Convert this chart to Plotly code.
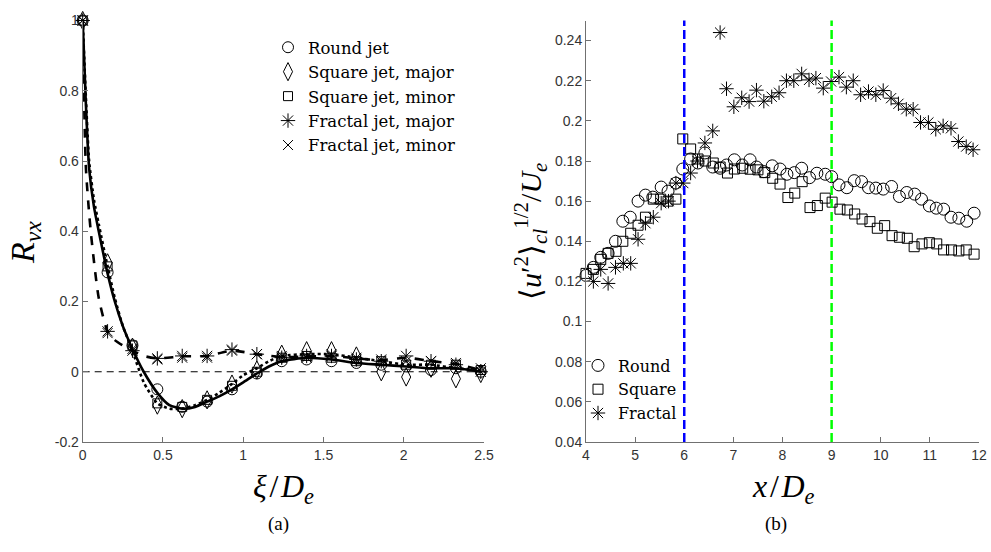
import plotly.graph_objects as go

# ---------------- (a) correlation data ----------------
xi_markers = [0, 0.155, 0.31, 0.465, 0.62, 0.775, 0.93, 1.085, 1.24, 1.395, 1.55, 1.705, 1.86, 2.015, 2.17, 2.325, 2.48]
round_mk = [1, 0.283, 0.075, -0.05, -0.10, -0.085, -0.05, -0.005, 0.03, 0.035, 0.03, 0.025, 0.02, 0.015, 0.005, 0.01, 0.0]
sqmaj_mk = [1, 0.31, 0.07, -0.095, -0.105, -0.08, -0.035, 0.005, 0.05, 0.06, 0.06, 0.045, 0.0, -0.015, 0.01, -0.02, -0.005]
sqmin_mk = [1, 0.30, 0.075, -0.09, -0.10, -0.08, -0.04, 0.0, 0.04, 0.045, 0.04, 0.03, 0.03, 0.02, 0.02, 0.02, 0.005]
frmaj_mk = [1, 0.115, 0.06, 0.038, 0.045, 0.045, 0.063, 0.05, 0.04, 0.045, 0.045, 0.035, 0.03, 0.045, 0.03, 0.02, 0.0]
frmin_mk = [1, 0.11, 0.065, 0.035, 0.04, 0.04, 0.06, 0.05, 0.045, 0.04, 0.05, 0.04, 0.035, 0.03, 0.03, 0.025, 0.01]

round_line_x = [0, 0.02, 0.04, 0.07, 0.1, 0.155, 0.2, 0.25, 0.31, 0.38, 0.465, 0.54, 0.62, 0.7, 0.775, 0.85, 0.93, 1.0, 1.085, 1.16, 1.24, 1.395, 1.55, 1.705, 1.86, 2.015, 2.17, 2.325, 2.48]
round_line_y = [1, 0.76, 0.58, 0.47, 0.4, 0.28, 0.2, 0.13, 0.065, 0.0, -0.06, -0.095, -0.105, -0.1, -0.085, -0.07, -0.05, -0.03, -0.005, 0.015, 0.03, 0.04, 0.035, 0.025, 0.02, 0.015, 0.01, 0.01, 0.0]
sqmaj_line_x = [0, 0.02, 0.04, 0.07, 0.1, 0.155, 0.2, 0.25, 0.31, 0.38, 0.465, 0.54, 0.62, 0.7, 0.775, 0.85, 0.93, 1.0, 1.085, 1.16, 1.24, 1.395, 1.55, 1.705, 1.86, 2.015, 2.17, 2.325, 2.48]
sqmaj_line_y = [1, 0.78, 0.6, 0.49, 0.42, 0.3, 0.21, 0.13, 0.06, -0.03, -0.09, -0.105, -0.105, -0.095, -0.08, -0.06, -0.035, -0.01, 0.01, 0.03, 0.045, 0.05, 0.05, 0.04, 0.03, 0.02, 0.02, 0.01, 0.005]
frac_line_x = [0, 0.02, 0.05, 0.1, 0.155, 0.2, 0.25, 0.31, 0.38, 0.465, 0.62, 0.775, 0.93, 1.085, 1.24, 1.395, 1.55, 1.705, 1.86, 2.015, 2.17, 2.325, 2.48]
frac_line_y = [1, 0.58, 0.4, 0.21, 0.115, 0.09, 0.075, 0.06, 0.045, 0.038, 0.044, 0.045, 0.06, 0.05, 0.042, 0.043, 0.045, 0.038, 0.033, 0.04, 0.03, 0.022, 0.005]

legend_a = ["Round jet", "Square jet, major", "Square jet, minor", "Fractal jet, major", "Fractal jet, minor"]

# ---------------- (b) centreline turbulence intensity ----------------
round_x = [4.00, 4.15, 4.30, 4.45, 4.60, 4.75, 4.90, 5.06, 5.21, 5.36, 5.53, 5.67, 5.83, 5.97, 6.13, 6.28, 6.42, 6.58, 6.73, 6.86,
           7.02, 7.18, 7.34, 7.47, 7.62, 7.79, 7.95, 8.09, 8.24, 8.39, 8.55, 8.70, 8.87, 9.00, 9.15, 9.31, 9.46, 9.61, 9.75, 9.90,
           10.05, 10.22, 10.38, 10.53, 10.69, 10.83, 10.99, 11.13, 11.28, 11.43, 11.59, 11.75, 11.90]
round_y = [0.123, 0.127, 0.132, 0.134, 0.140, 0.150, 0.152, 0.160, 0.163, 0.162, 0.167, 0.165, 0.169, 0.176, 0.181, 0.179, 0.184, 0.177, 0.1764, 0.178,
           0.1806, 0.178, 0.1806, 0.177, 0.1747, 0.1776, 0.176, 0.1734, 0.1742, 0.1764, 0.1717, 0.1739, 0.1734, 0.1722, 0.1681, 0.1667, 0.1702, 0.1697, 0.1667, 0.1665,
           0.166, 0.1673, 0.1623, 0.1643, 0.1635, 0.161, 0.1576, 0.1565, 0.156, 0.152, 0.1515, 0.150, 0.154]
square_x = [4.00, 4.15, 4.30, 4.45, 4.61, 4.75, 4.91, 5.06, 5.21, 5.37, 5.52, 5.67, 5.83, 5.97, 6.13, 6.28, 6.43, 6.59, 6.73, 6.88,
            7.02, 7.19, 7.34, 7.50, 7.64, 7.80, 7.95, 8.11, 8.25, 8.40, 8.56, 8.71, 8.87, 9.01, 9.17, 9.32, 9.47, 9.62, 9.78, 9.93,
            10.08, 10.23, 10.38, 10.54, 10.68, 10.84, 10.99, 11.14, 11.28, 11.44, 11.59, 11.74, 11.90]
square_y = [0.124, 0.126, 0.131, 0.134, 0.135, 0.140, 0.144, 0.148, 0.152, 0.161, 0.161, 0.160, 0.161, 0.191, 0.186, 0.181, 0.180, 0.179, 0.177, 0.174,
            0.176, 0.1764, 0.1759, 0.1756, 0.1742, 0.1714, 0.1685, 0.1618, 0.164, 0.1697, 0.1568, 0.1578, 0.1615, 0.1595, 0.156, 0.1556, 0.1536, 0.1511, 0.1498, 0.1465,
            0.1478, 0.1428, 0.142, 0.1415, 0.1373, 0.1387, 0.1393, 0.1387, 0.1357, 0.1357, 0.1352, 0.1357, 0.1336]
fractal_x = [4.15, 4.30, 4.45, 4.60, 4.76, 4.91, 5.06, 5.21, 5.37, 5.53, 5.68, 5.83, 5.98, 6.13, 6.27, 6.42, 6.58, 6.73, 6.86,
             7.01, 7.17, 7.32, 7.47, 7.62, 7.78, 7.93, 8.08, 8.23, 8.39, 8.54, 8.68, 8.83, 8.99, 9.15, 9.30, 9.44, 9.59, 9.75, 9.90,
             10.05, 10.21, 10.36, 10.52, 10.66, 10.81, 10.97, 11.12, 11.27, 11.43, 11.58, 11.74, 11.88]
fractal_y = [0.120, 0.126, 0.119, 0.127, 0.129, 0.129, 0.141, 0.149, 0.152, 0.159, 0.160, 0.169, 0.169, 0.174, 0.180, 0.189, 0.195, 0.244, 0.216,
             0.207, 0.2115, 0.2096, 0.2153, 0.2098, 0.212, 0.214, 0.220, 0.220, 0.2234, 0.2204, 0.2213, 0.2163, 0.2196, 0.2218, 0.2168, 0.220, 0.2130, 0.2146, 0.2130,
             0.2151, 0.2113, 0.2085, 0.2058, 0.2058, 0.1992, 0.1992, 0.1958, 0.1975, 0.1963, 0.1897, 0.1872, 0.1856]
vlines_x = [6, 9]
vline_colors = ["#0000ff", "#00ff00"]
legend_b = ["Round", "Square", "Fractal"]

yticks_b = [0.04, 0.06, 0.08, 0.1, 0.12, 0.14, 0.16, 0.18, 0.2, 0.22, 0.24]
yticks_b_text = ["0.04", "0.06", "0.08", "0.1", "0.12", "0.14", "0.16", "0.18", "0.2", "0.22", "0.24"]
yticks_a = [-0.2, 0, 0.2, 0.4, 0.6, 0.8, 1]
yticks_a_text = ["-0.2", "0", "0.2", "0.4", "0.6", "0.8", "1"]
xticks_a = [0, 0.5, 1, 1.5, 2, 2.5]
xticks_a_text = ["0", "0.5", "1", "1.5", "2", "2.5"]
xticks_b = [4, 5, 6, 7, 8, 9, 10, 11, 12]

W, H = 991, 552
SERIF = "Liberation Serif"
LSERIF = "DejaVu Serif"
SANS = "Liberation Sans"

fig = go.Figure()

# ---- (a) lines
line_specs = [
    (round_line_x, round_line_y, "solid"),
    (sqmaj_line_x, sqmaj_line_y, "dot"),
    (frac_line_x, frac_line_y, "dash"),
]
for lx, ly, dash in line_specs:
    fig.add_trace(go.Scatter(x=lx, y=ly, mode="lines", line=dict(color="black", width=2.6, dash=dash, shape="spline", smoothing=0.6),
                             showlegend=False, xaxis="x", yaxis="y", cliponaxis=False, hoverinfo="skip"))

# ---- (a) markers
mk_specs = [
    (round_mk, "circle-open", 11),
    (sqmaj_mk, "diamond-tall-open", 13),
    (sqmin_mk, "square-open", 9),
    (frmaj_mk, "asterisk-open", 12),
    (frmin_mk, "x-thin-open", 10),
]
for (vals, sym, sz), name in zip(mk_specs, legend_a):
    fig.add_trace(go.Scatter(x=xi_markers, y=vals, mode="markers", name=name,
                             marker=dict(symbol=sym, size=sz, color="black", line=dict(color="black", width=1)),
                             xaxis="x", yaxis="y", cliponaxis=False, legend="legend"))

# ---- (b) markers
b_specs = [
    (round_x, round_y, "circle-open", 12),
    (square_x, square_y, "square-open", 10),
    (fractal_x, fractal_y, "asterisk-open", 12),
]
for (bx, by, sym, sz), name in zip(b_specs, legend_b):
    fig.add_trace(go.Scatter(x=bx, y=by, mode="markers", name=name,
                             marker=dict(symbol=sym, size=sz, color="black", line=dict(color="black", width=1)),
                             xaxis="x2", yaxis="y2", cliponaxis=False, legend="legend2"))

shapes = [dict(type="line", xref="x", yref="y", x0=0, x1=2.5, y0=0, y1=0,
               line=dict(color="black", width=1, dash="7px,5px"), layer="below")]
for vx, col in zip(vlines_x, vline_colors):
    shapes.append(dict(type="line", xref="x2", yref="y2 domain", x0=vx, x1=vx, y0=0, y1=1,
                       line=dict(color=col, width=2.5, dash="9px,4px")))

axis_common = dict(showline=True, linecolor="#707070", linewidth=1, ticks="inside", ticklen=5,
                   tickcolor="#707070", showgrid=False, zeroline=False, mirror=False,
                   tickfont=dict(family=SANS, size=14, color="#333333"))


def ann(text, px, py, size, angle=0, family=SERIF):
    return dict(text=text, x=px / W, y=1 - py / H, xref="paper", yref="paper", xanchor="center", yanchor="middle",
                showarrow=False, textangle=angle, font=dict(family=family, size=size, color="black"))


ydom = [1 - 442 / H, 1 - 20.5 / H]
fig.update_layout(
    width=W, height=H, margin=dict(l=0, r=0, t=0, b=0, autoexpand=False),
    paper_bgcolor="white", plot_bgcolor="white",
    xaxis=dict(domain=[82.7 / W, 484 / W], range=[0, 2.5], tickvals=xticks_a, ticktext=xticks_a_text, anchor="y", **axis_common),
    yaxis=dict(domain=ydom, range=[-0.2, 1], tickvals=yticks_a, ticktext=yticks_a_text, anchor="x", **axis_common),
    xaxis2=dict(domain=[586 / W, 979 / W], range=[4, 12], tickvals=xticks_b, anchor="y2", **axis_common),
    yaxis2=dict(domain=ydom, range=[0.04, 0.25], tickvals=yticks_b, ticktext=yticks_b_text, anchor="x2", **axis_common),
    shapes=shapes,
    legend=dict(x=268 / W, y=1 - 30 / H, xanchor="left", yanchor="top", bgcolor="rgba(0,0,0,0)",
                font=dict(family=LSERIF, size=16.5, color="black"), tracegroupgap=0, itemsizing="trace"),
    legend2=dict(x=578 / W, y=1 - 348.5 / H, xanchor="left", yanchor="top", bgcolor="rgba(0,0,0,0)",
                 font=dict(family=LSERIF, size=16, color="black"), tracegroupgap=0, itemsizing="trace"),
    annotations=[
        ann("<i>R</i><sub><i>vx</i></sub>", 25, 243, 34, -90),
        ann("<i>ξ</i>\u200a/\u200a<i>D</i><sub><i>e</i></sub>", 283, 488, 32),
        ann("<i>x</i>\u200a/\u200a<i>D</i><sub><i>e</i></sub>", 783, 488, 32),
        ann("⟨<i>u</i>′<sup>2</sup>⟩<sub><i>cl</i></sub><sup>1/2</sup>/<i>U</i><sub><i>e</i></sub>", 530, 232, 30, -90),
        ann("(a)", 278, 524, 19),
        ann("(b)", 776, 524, 19),
    ],
)

fig.write_html("out.html", config={"displayModeBar": False},
               post_script="document.body.style.margin='0px';document.body.style.padding='0px';")
